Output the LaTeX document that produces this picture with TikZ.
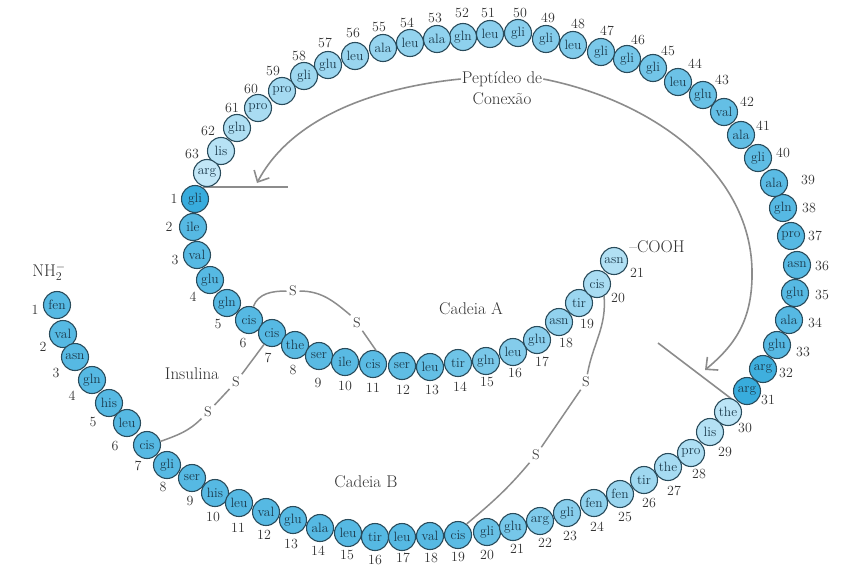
\documentclass[tikz,border=0pt]{standalone}
\usetikzlibrary{arrows.meta}
\definecolor{bD}{HTML}{38ACDD}
\definecolor{bL}{HTML}{C2E7F7}
\definecolor{bEdge}{HTML}{2A4C5C}
\definecolor{bTxt}{HTML}{1B3A4C}
\definecolor{lineG}{HTML}{8C8C8C}
\definecolor{numC}{HTML}{333333}
\tikzset{
 bead/.style={circle, draw=bEdge, line width=1.1pt, minimum size=27pt, inner sep=0pt, text=bTxt, font=\fontsize{13.5}{13.5}\selectfont},
 num/.style={text=numC, font=\fontsize{14}{15}\selectfont, inner sep=0pt},
 captext/.style={text=black!80, font=\fontsize{17}{18}\selectfont, inner sep=1pt},
 sulf/.style={text=black!75, font=\fontsize{14}{15}\selectfont, inner sep=2.5pt},
 bond/.style={draw=lineG, line width=1.5pt},
 pointer/.style={draw=lineG, line width=1.6pt, -{Straight Barb[length=9pt,width=17pt,line width=1.6pt]}},
}
\begin{document}
\begin{tikzpicture}[x=1pt,y=-1pt]
\useasboundingbox (0,0) rectangle (845,578);
\fill[white] (0,0) rectangle (845,578);
% cleavage lines
\coordinate (cutA1) at (203,187);
\coordinate (cutA2) at (288,187);
\coordinate (cutB1) at (658,343);
\coordinate (cutB2) at (733,400);
\draw[bond,line width=1.6pt] (cutA1) -- (cutA2);
\draw[bond,line width=1.6pt] (cutB1) -- (cutB2);
% chain A
\foreach \n/\x/\y/\t/\s/\lx/\ly in {
1/195/199/gli/100/174/199, 2/193/227/ile/78/169/227, 3/197/255/val/78/175/260,
4/210/280/glu/78/193/297, 5/227/303/gln/78/218/324, 6/249/320/cis/78/243/343,
7/272/333/cis/78/268/358, 8/295/345/the/76/293/370, 9/319/356/ser/76/318/383,
10/345/362/ile/76/345/386, 11/373/364/cis/75/373/388, 12/402/366/ser/72/403/390,
13/430/367/leu/68/432/390, 14/458/363/tir/60/460/387, 15/486/361/gln/52/487/382,
16/513/352/leu/45/515/373, 17/537/340/glu/40/542/362, 18/559/322/asn/35/566/343,
19/579/303/tir/28/587/324, 20/597/284/cis/18/618/298, 21/614/261/asn/12/637/273}
{\node[bead, fill=bD!\s!bL] (A\n) at (\x,\y) {\t};
 \node[num] at (\lx,\ly) {\n};}
% chain B
\foreach \n/\x/\y/\t/\s/\lx/\ly in {
1/57/305/fen/78/35/310, 2/63/334/val/78/43/347, 3/75/357/asn/78/56/373,
4/92/380/gln/78/72/396, 5/109/403/his/78/93/422, 6/127/423/leu/78/115/446,
7/147/445/cis/78/138/466, 8/167/465/gli/78/163/487, 9/192/478/ser/78/190/501,
10/215/493/his/78/213/517, 11/239/503/leu/78/238/528, 12/266/512/val/78/264/535,
13/293/520/glu/78/291/544, 14/320/528/ala/78/318/551, 15/348/533/leu/78/347/555,
16/375/537/tir/78/375/560, 17/402/537/leu/78/403/558, 18/430/536/val/78/431/558,
19/458/535/cis/75/458/557, 20/487/532/gli/65/487/555, 21/513/527/glu/55/517/549,
22/540/521/arg/48/545/543, 23/567/513/gli/42/570/536, 24/594/503/fen/36/597/527,
25/620/494/fen/30/625/517, 26/644/480/tir/25/649/503, 27/668/467/the/20/674/491,
28/691/453/pro/15/699/474, 29/710/432/lis/10/725/452, 30/728/412/the/5/745/428}
{\node[bead, fill=bD!\s!bL] (B\n) at (\x,\y) {\t};
 \node[num] at (\lx,\ly) {\n};}
% connecting peptide
\foreach \n/\x/\y/\t/\s/\lx/\ly in {
31/747/391/arg/100/768/400, 32/763/369/arg/95/786/373, 33/777/345/glu/78/803/352,
34/789/320/ala/78/815/323, 35/795/293/glu/78/822/295, 36/797/265/asn/78/822/266,
37/791/236/pro/78/815/236, 38/783/208/gln/78/809/208, 39/774/183/ala/75/808/180,
40/758/158/gli/72/783/153, 41/741/135/ala/70/763/126, 42/724/112/val/68/747/102,
43/703/95/glu/65/722/80, 44/678/82/leu/62/695/64, 45/653/68/gli/58/668/51,
46/627/59/gli/55/638/40, 47/601/52/gli/52/607/31, 48/573/45/leu/48/578/24,
49/546/39/gli/45/548/18, 50/518/33/gli/42/520/13, 51/490/34/leu/40/488/13,
52/463/37/gln/38/462/13, 53/437/39/ala/36/435/18, 54/410/43/leu/34/407/23,
55/383/48/ala/32/379/27, 56/355/56/leu/30/353/33, 57/328/65/glu/28/325/43,
58/304/76/gli/26/299/56, 59/282/91/pro/22/273/71, 60/258/108/pro/18/251/89,
61/237/128/gln/14/232/108, 62/221/151/lis/8/208/131, 63/207/173/arg/0/192/154}
{\node[bead, fill=bD!\s!bL] (C\n) at (\x,\y) {\t};
 \node[num] at (\lx,\ly) {\n};}
% captions
\node[captext] (nh2) at (49,272) {NH$_2^{-}$};
\node[captext] (cooh) at (657,247) {--COOH};
\node[captext] (cadA) at (471,309) {Cadeia A};
\node[captext] (cadB) at (366,482) {Cadeia B};
\node[captext] (ins) at (192,374) {Insulina};
\node[captext] (pep1) at (502,79) {Peptídeo de};
\node[captext] (pep2) at (502,99) {Conexão};
% sulfur atoms
\node[sulf] (SA1) at (293,291) {S};
\node[sulf] (SA2) at (357,323) {S};
\node[sulf] (SAB1) at (236,382) {S};
\node[sulf] (SAB2) at (208,412) {S};
\node[sulf] (SAB3) at (586,382) {S};
\node[sulf] (SAB4) at (536,455) {S};
% disulfide bonds
\draw[bond] (A6.72) to[out=70,in=180] (SA1.west);
\draw[bond] (SA1.east) to[out=0,in=140] (SA2.north west);
\draw[bond] (SA2) -- (A11.78);
\draw[bond] (A7.235) -- (SAB1);
\draw[bond] (SAB1) -- (SAB2);
\draw[bond] (SAB2) to[out=225,in=20] (B7.15);
\draw[bond] (A20.300) to[out=-85,in=80] (SAB3);
\draw[bond] (SAB3) -- (SAB4);
\draw[bond] (SAB4) to[out=-130,in=40] (B19.52);
% arrows
\coordinate (tipA) at (257,183);
\coordinate (tipB) at (705,370);
\draw[pointer] (pep1.west) .. controls (370,88) and (290,120) .. (tipA);
\draw[pointer] (pep1.east) .. controls (650,100) and (750,170) .. (752,270) .. controls (753,320) and (735,345) .. (tipB);
\end{tikzpicture}
\end{document}
